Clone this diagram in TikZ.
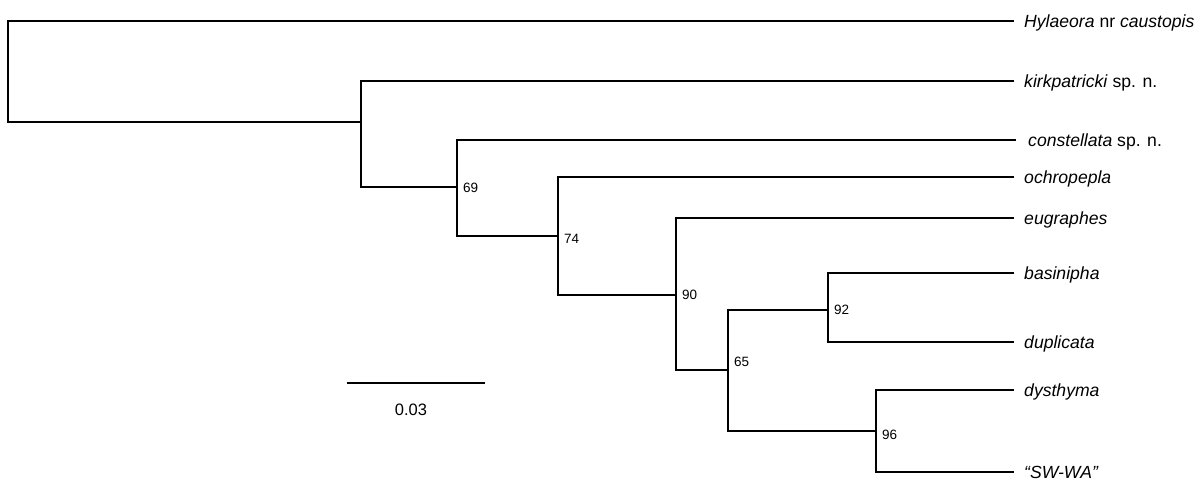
\documentclass[tikz,border=0pt]{standalone}
\usepackage{fontspec}
\setmainfont{Liberation Sans}
\usetikzlibrary{positioning}

\begin{document}
\begin{tikzpicture}[
  x=1pt,y=-1pt,
  taxon/.style={anchor=west,inner xsep=11pt,inner ysep=0pt,text height=12.5pt,
                text depth=0pt,font=\fontsize{17.6}{19}\selectfont},
  boot/.style={inner sep=1pt,font=\fontsize{13.5}{15}\selectfont},
  branch/.style={line width=1.8pt,line cap=rect}
]
  \useasboundingbox (0,0) rectangle (1204,497);

  % tips
  \node[taxon] (tHyl)  at (1013,21)  {\textit{Hylaeora} nr \textit{caustopis}};
  \node[taxon] (tKirk) at (1013,81)  {\textit{kirkpatricki} sp. n.};
  \node[taxon,inner xsep=13pt] (tCon) at (1015,140) {\textit{constellata} sp. n.};
  \node[taxon] (tOch)  at (1013,177) {\textit{ochropepla}};
  \node[taxon] (tEug)  at (1013,218) {\textit{eugraphes}};
  \node[taxon] (tBas)  at (1013,273) {\textit{basinipha}};
  \node[taxon] (tDup)  at (1013,342) {\textit{duplicata}};
  \node[taxon] (tDys)  at (1013,390) {\textit{dysthyma}};
  \node[taxon] (tSW)   at (1013,472) {\textit{``SW-WA''}};

  % internal nodes
  \coordinate (root) at (8,72);
  \coordinate (nA) at (361,122);
  \coordinate (nB) at (457,187);
  \coordinate (nC) at (558,236);
  \coordinate (nD) at (676,295);
  \coordinate (nE) at (728,370);
  \coordinate (nF) at (828,310);
  \coordinate (nG) at (876,431);

  \draw[branch] (root) |- (tHyl.west);
  \draw[branch] (root) |- (nA);
  \draw[branch] (nA) |- (tKirk.west);
  \draw[branch] (nA) |- (nB);
  \draw[branch] (nB) |- (tCon.west);
  \draw[branch] (nB) |- (nC);
  \draw[branch] (nC) |- (tOch.west);
  \draw[branch] (nC) |- (nD);
  \draw[branch] (nD) |- (tEug.west);
  \draw[branch] (nD) |- (nE);
  \draw[branch] (nE) |- (nF);
  \draw[branch] (nE) |- (nG);
  \draw[branch] (nF) |- (tBas.west);
  \draw[branch] (nF) |- (tDup.west);
  \draw[branch] (nG) |- (tDys.west);
  \draw[branch] (nG) |- (tSW.west);

  % bootstrap support
  \node[boot,right=5pt of nB,yshift=-1pt] (b69) {69};
  \node[boot,right=5pt of nC,yshift=-3pt] (b74) {74};
  \node[boot,right=5pt of nD] (b90) {90};
  \node[boot,right=5pt of nE,yshift=8pt] (b65) {65};
  \node[boot,right=5pt of nF] (b92) {92};
  \node[boot,right=5pt of nG,yshift=-4pt] (b96) {96};

  % scale bar
  \coordinate (sL) at (347,383);
  \coordinate (sR) at (485,383);
  \draw[branch,line cap=butt] (sL) -- (sR);
  \node[boot,font=\fontsize{16.5}{18}\selectfont] (sbar) at (411,410) {0.03};
\end{tikzpicture}
\end{document}
